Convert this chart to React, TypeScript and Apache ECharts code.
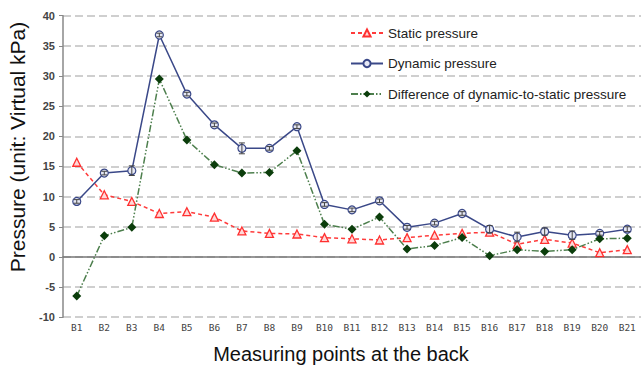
import React, { useEffect, useRef } from "react";
import * as echarts from "echarts";

const categories = ["B1","B2","B3","B4","B5","B6","B7","B8","B9","B10","B11","B12","B13","B14","B15","B16","B17","B18","B19","B20","B21"];
const staticP = [15.7,10.3,9.2,7.2,7.5,6.6,4.3,3.9,3.8,3.2,3.0,2.8,3.2,3.6,3.9,4.1,2.1,2.9,2.3,0.7,1.2];
const dynamicP = [9.2,13.9,14.3,36.8,27.0,21.9,18.0,18.0,21.6,8.7,7.8,9.3,4.9,5.6,7.2,4.6,3.3,4.2,3.6,3.9,4.6];
const diffP = [-6.5,3.5,4.9,29.5,19.4,15.3,13.9,14.0,17.6,5.4,4.6,6.6,1.3,1.9,3.2,0.2,1.2,0.9,1.2,3.0,3.1];
const dynErr = [0.3,0.3,0.8,0.3,0.3,0.3,0.9,0.3,0.3,0.3,0.3,0.3,0.3,0.3,0.3,0.6,0.8,0.6,0.7,0.3,0.4];
const yTicks = { min: -10, max: 40, interval: 5 };
const yTitle = "Pressure (unit: Virtual kPa)";
const xTitle = "Measuring points at the back";

export default function App() {
  const ref = useRef<HTMLDivElement>(null);
  useEffect(() => {
    const chart = echarts.init(ref.current!, null, { renderer: "svg" });
    const errData = categories.map((c, i) => [i, dynamicP[i] - dynErr[i], dynamicP[i] + dynErr[i]]);
    chart.setOption({
      animation: false,
      textStyle: { fontFamily: "Liberation Sans, Arial, sans-serif" },
      grid: { left: 63, top: 15.7, height: 301.5, width: 584 },
      graphic: [
        {
          type: "text",
          x: 17,
          y: 147,
          rotation: Math.PI / 2,
          style: { text: yTitle, fontSize: 21, fill: "#111", align: "center", verticalAlign: "middle", fontFamily: "Liberation Sans, Arial, sans-serif" },
        },
        {
          type: "text",
          x: 341,
          y: 354,
          style: { text: xTitle, fontSize: 20, fill: "#111", align: "center", verticalAlign: "middle", fontFamily: "Liberation Sans, Arial, sans-serif" },
        },
      ],
      legend: {
        orient: "vertical",
        left: 345,
        top: 21,
        itemGap: 16.5,
        itemWidth: 32,
        itemHeight: 9,
        textStyle: { fontSize: 13.5, color: "#222" },
        data: ["Static pressure", "Dynamic pressure", "Difference of dynamic-to-static pressure"],
      },
      xAxis: [
        {
          type: "category",
          data: categories,
          axisLine: { onZero: true, lineStyle: { color: "#777", width: 1.5 } },
          axisTick: { alignWithLabel: true, inside: true, length: 3, lineStyle: { color: "#777" } },
          axisLabel: { show: false },
          splitLine: { show: false },
        },
        {
          type: "category",
          data: categories,
          position: "bottom",
          axisLine: { show: false },
          axisTick: { show: false },
          axisLabel: { fontFamily: "DejaVu Sans Mono", fontSize: 9.5, color: "#444", margin: 5 },
        },
      ],
      yAxis: {
        type: "value",
        min: yTicks.min,
        max: yTicks.max,
        interval: yTicks.interval,
        axisLine: { show: true, lineStyle: { color: "#888", width: 1.5 } },
        axisTick: { show: true, length: 4, lineStyle: { color: "#888" } },
        axisLabel: { fontSize: 11, color: "#444", fontWeight: "bold", margin: 8 },
        splitLine: { lineStyle: { type: [8, 4], color: "#c0c0c0", width: 1.5 } },
      },
      series: [
        {
          name: "Static pressure",
          type: "line",
          data: staticP,
          symbol: "triangle",
          symbolSize: 8,
          z: 3,
          lineStyle: { color: "#ff3b3b", width: 1.5, type: [4, 3] },
          itemStyle: { color: "#ffd8d8", borderColor: "#ff3030", borderWidth: 1.3 },
        },
        {
          name: "Dynamic pressure",
          type: "line",
          data: dynamicP,
          symbol: "circle",
          symbolSize: 8,
          z: 4,
          lineStyle: { color: "#3a4888", width: 1.5 },
          itemStyle: { color: "#e6e8f4", borderColor: "#3a4888", borderWidth: 1.2 },
        },
        {
          name: "Difference of dynamic-to-static pressure",
          type: "line",
          data: diffP,
          symbol: "diamond",
          symbolSize: 9,
          z: 5,
          lineStyle: { color: "#4d7f4d", width: 1.5, type: [7, 2, 1.5, 2, 1.5, 2] },
          itemStyle: { color: "#0b3d0b" },
        },
        {
          type: "custom",
          data: errData,
          z: 6,
          renderItem: (params: any, api: any) => {
            const x = api.value(0);
            const lo = api.coord([x, api.value(1)]);
            const hi = api.coord([x, api.value(2)]);
            const s = { stroke: "#444", lineWidth: 1 };
            return {
              type: "group",
              children: [
                { type: "line", shape: { x1: lo[0], y1: lo[1], x2: hi[0], y2: hi[1] }, style: s },
                { type: "line", shape: { x1: lo[0] - 3, y1: lo[1], x2: lo[0] + 3, y2: lo[1] }, style: s },
                { type: "line", shape: { x1: hi[0] - 3, y1: hi[1], x2: hi[0] + 3, y2: hi[1] }, style: s },
              ],
            };
          },
        },
      ],
    });
    return () => chart.dispose();
  }, []);
  return <div ref={ref} style={{ width: 641, height: 370, position: "absolute", left: 0, top: 0, background: "#fff" }} />;
}
